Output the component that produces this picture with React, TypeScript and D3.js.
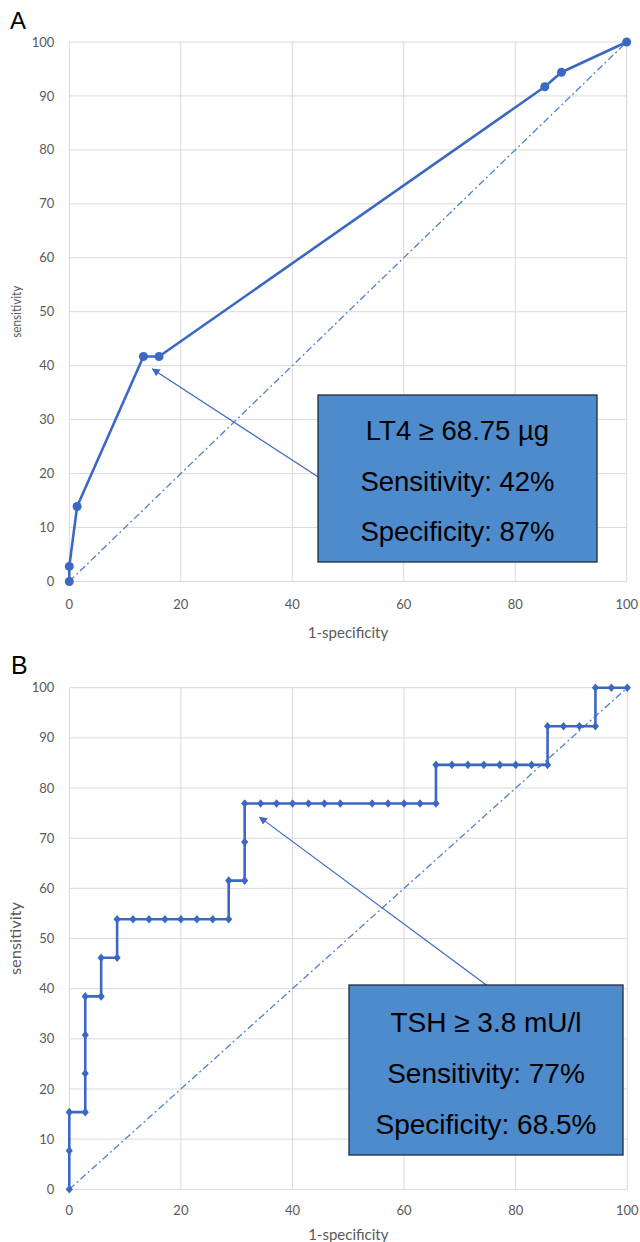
import React from "react";
import * as d3 from "d3";

// ---------- DATA ----------
const aFpr = [0, 0, 1.4, 13.3, 16.1, 85.3, 88.3, 100];
const aTpr = [0, 2.8, 13.9, 41.7, 41.7, 91.7, 94.4, 100];

const bFpr = [
  0, 0, 0, 2.86, 2.86, 2.86, 2.86, 5.71, 5.71, 8.57, 8.57, 11.43, 14.29, 17.14, 20, 22.86, 25.71,
  28.57, 28.57, 31.43, 31.43, 31.43, 34.29, 37.14, 40, 42.86, 45.71, 48.57, 54.29, 57.14, 60,
  62.86, 65.71, 65.71, 68.57, 71.43, 74.29, 77.14, 80, 82.86, 85.71, 85.71, 88.57, 91.43, 94.29,
  94.29, 97.14, 100,
];
const bTpr = [
  0, 7.69, 15.38, 15.38, 23.08, 30.77, 38.46, 38.46, 46.15, 46.15, 53.85, 53.85, 53.85, 53.85,
  53.85, 53.85, 53.85, 53.85, 61.54, 61.54, 69.23, 76.92, 76.92, 76.92, 76.92, 76.92, 76.92,
  76.92, 76.92, 76.92, 76.92, 76.92, 76.92, 84.62, 84.62, 84.62, 84.62, 84.62, 84.62, 84.62,
  84.62, 92.31, 92.31, 92.31, 92.31, 100, 100, 100,
];

const xTicks = [0, 20, 40, 60, 80, 100];
const yTicks = [0, 10, 20, 30, 40, 50, 60, 70, 80, 90, 100];

const annA = ["LT4 ≥ 68.75 µg", "Sensitivity: 42%", "Specificity: 87%"];
const annB = ["TSH ≥ 3.8 mU/l", "Sensitivity: 77%", "Specificity: 68.5%"];

// arrow endpoints in data units: [tailX, tailY, tipX, tipY]
const arrowA = [44.6, 19.4, 14.9, 39.4];
const arrowB = [74.8, 40.7, 34.1, 74.2];

const xTitle = "1-specificity";
const yTitle = "sensitivity";

// ---------- STYLE ----------
const BLUE = "#3b68c2";
const DIAG = "#4f7fd0";
const GRID = "#d9d9d9";
const TICK = "#595959";
const BOX_FILL = "#4d8bcc";
const BOX_STROKE = "#1f2d3d";

type PanelProps = {
  label: string;
  labelPos: [number, number, number];
  left: number;
  right: number;
  top: number;
  bottom: number;
  fpr: number[];
  tpr: number[];
  marker: "circle" | "diamond";
  ann: string[];
  box: { x: number; y: number; w: number; h: number; base: number; gap: number; fs: number };
  arrow: number[];
  xTitleY: number;
  xTickY: number;
  yTitleLen: number;
  yTitleFs: number;
  id: string;
};

function Panel(p: PanelProps) {
  const x = d3.scaleLinear().domain([0, 100]).range([p.left, p.right]);
  const y = d3.scaleLinear().domain([0, 100]).range([p.bottom, p.top]);
  const pts: [number, number][] = p.fpr.map((f, i) => [f, p.tpr[i]]);
  const line = d3
    .line<[number, number]>()
    .x((d) => x(d[0]))
    .y((d) => y(d[1]));
  const diag = line([
    [0, 0],
    [100, 100],
  ]) as string;
  const cx = p.box.x + p.box.w / 2;
  const ax1 = x(p.arrow[0]);
  const ay1 = y(p.arrow[1]);
  const ax2 = x(p.arrow[2]);
  const ay2 = y(p.arrow[3]);
  const midY = (p.top + p.bottom) / 2;
  return (
    <g>
      <text
        x={p.labelPos[0]}
        y={p.labelPos[1]}
        fontFamily="Liberation Sans, Arial, sans-serif"
        fontSize={p.labelPos[2]}
        fill="#000"
      >
        {p.label}
      </text>
      {/* grid */}
      {yTicks.map((t) => (
        <line key={"gy" + t} x1={p.left} x2={p.right} y1={y(t)} y2={y(t)} stroke={GRID} strokeWidth={1} />
      ))}
      {xTicks.map((t) => (
        <line key={"gx" + t} x1={x(t)} x2={x(t)} y1={p.top} y2={p.bottom} stroke={GRID} strokeWidth={1} />
      ))}
      {/* tick labels */}
      {yTicks.map((t) => (
        <text
          key={"ty" + t}
          x={p.left - 15}
          y={y(t)}
          dy="0.35em"
          textAnchor="end"
          fontFamily="Lato, sans-serif"
          fontSize={13}
          fill={TICK}
        >
          {t}
        </text>
      ))}
      {xTicks.map((t) => (
        <text
          key={"tx" + t}
          x={x(t)}
          y={p.xTickY}
          dy="0.35em"
          textAnchor="middle"
          fontFamily="Lato, sans-serif"
          fontSize={13}
          fill={TICK}
        >
          {t}
        </text>
      ))}
      {/* axis titles */}
      <text
        x={(p.left + p.right) / 2}
        y={p.xTitleY}
        dy="0.35em"
        textAnchor="middle"
        fontFamily="Lato, sans-serif"
        fontSize={15}
        fill={TICK}
      >
        {xTitle}
      </text>
      <text
        transform={`translate(21,${midY}) rotate(-90)`}
        textAnchor="middle"
        fontFamily="Lato, sans-serif"
        fontSize={p.yTitleFs}
        fill={TICK}
        textLength={p.yTitleLen}
        lengthAdjust="spacingAndGlyphs"
      >
        {yTitle}
      </text>
      {/* diagonal */}
      <path d={diag} fill="none" stroke={DIAG} strokeWidth={1.3} strokeDasharray="7,3,2,3" />
      {/* ROC curve */}
      <path d={line(pts) as string} fill="none" stroke={BLUE} strokeWidth={2.6} strokeLinejoin="round" />
      {pts.map((d, i) =>
        p.marker === "circle" ? (
          <circle key={"m" + i} cx={x(d[0])} cy={y(d[1])} r={4.5} fill={BLUE} />
        ) : (
          <path
            key={"m" + i}
            d={`M${x(d[0])},${y(d[1]) - 4.3}L${x(d[0]) + 3.6},${y(d[1])}L${x(d[0])},${y(d[1]) + 4.3}L${
              x(d[0]) - 3.6
            },${y(d[1])}Z`}
            fill={BLUE}
          />
        )
      )}
      {/* arrow */}
      <defs>
        <marker
          id={"ah" + p.id}
          viewBox="0 0 10 10"
          refX={9}
          refY={5}
          markerWidth={10}
          markerHeight={8}
          markerUnits="userSpaceOnUse"
          orient="auto"
        >
          <path d="M0,0L10,5L0,10Z" fill={BLUE} />
        </marker>
      </defs>
      <line x1={ax1} y1={ay1} x2={ax2} y2={ay2} stroke={BLUE} strokeWidth={1.2} markerEnd={`url(#ah${p.id})`} />
      {/* annotation box */}
      <rect
        x={p.box.x}
        y={p.box.y}
        width={p.box.w}
        height={p.box.h}
        fill={BOX_FILL}
        stroke={BOX_STROKE}
        strokeWidth={1.3}
      />
      {p.ann.map((s, i) => (
        <text
          key={"a" + i}
          x={cx}
          y={p.box.base + i * p.box.gap}
          textAnchor="middle"
          fontFamily="Liberation Sans, Arial, sans-serif"
          fontSize={p.box.fs}
          fill="#000"
        >
          {s}
        </text>
      ))}
    </g>
  );
}

export default function App() {
  return (
    <svg
      width={640}
      height={1242}
      style={{ position: "absolute", left: 0, top: 0, display: "block", background: "#fff" }}
    >
      <rect x={0} y={0} width={640} height={1242} fill="#fff" />
      <Panel
        id="A"
        label="A"
        labelPos={[10, 29, 24]}
        left={69.3}
        right={626.7}
        top={42}
        bottom={581.5}
        fpr={aFpr}
        tpr={aTpr}
        marker="circle"
        ann={annA}
        box={{ x: 318, y: 395, w: 279, h: 167, base: 440, gap: 50.5, fs: 27.5 }}
        arrow={arrowA}
        xTickY={604}
        xTitleY={633}
        yTitleLen={52}
        yTitleFs={13}
      />
      <Panel
        id="B"
        label="B"
        labelPos={[11, 674, 25]}
        left={69.3}
        right={627.3}
        top={687.7}
        bottom={1189.3}
        fpr={bFpr}
        tpr={bTpr}
        marker="diamond"
        ann={annB}
        box={{ x: 349, y: 985, w: 274, h: 170, base: 1032, gap: 51.2, fs: 28 }}
        arrow={arrowB}
        xTickY={1210}
        xTitleY={1235}
        yTitleLen={73}
        yTitleFs={15}
      />
    </svg>
  );
}
